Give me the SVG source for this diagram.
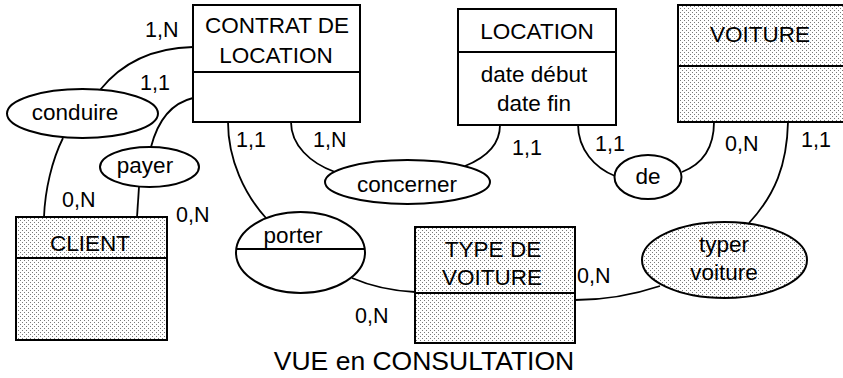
<svg xmlns="http://www.w3.org/2000/svg" width="843" height="378" viewBox="0 0 843 378">
<defs>
<pattern id="dots" x="0" y="0" width="4" height="4" patternUnits="userSpaceOnUse">
<rect width="4" height="4" fill="#ffffff"/>
<rect x="0" y="0" width="1" height="1" fill="#7a7a7a"/>
<rect x="2" y="2" width="1" height="1" fill="#7a7a7a"/>
</pattern>
<style>
.box{fill:#ffffff;stroke:#000;stroke-width:2}
.dot{fill:url(#dots);stroke:#000;stroke-width:2}
.div{stroke:#000;stroke-width:2;fill:none}
.ell{fill:#ffffff;stroke:#000;stroke-width:2}
.con{fill:none;stroke:#000;stroke-width:1.8}
text{font-family:"Liberation Sans",Arial,sans-serif;font-size:22.5px;fill:#000}
.c{text-anchor:middle}
.k{font-size:21.5px}
.t{font-size:26.5px}
</style>
</defs>
<rect width="843" height="378" fill="#ffffff"/>
<g id="connectors">
<path class="con" d="M100,90 C120,65 150,48 193,47"/>
<path class="con" d="M63,138 C52,160 45,190 44,217"/>
<path class="con" d="M151,147 C158,120 172,103 193,98"/>
<path class="con" d="M139,187 L137,217"/>
<path class="con" d="M228,122 C228,160 245,195 266,218"/>
<path class="con" d="M291,122 C291,145 310,163 335,172"/>
<path class="con" d="M500,125 C500,145 485,158 465,166"/>
<path class="con" d="M578,124 C578,150 595,168 615,176"/>
<path class="con" d="M682,172 C700,165 714,150 714,122"/>
<path class="con" d="M788,122 C787,165 775,195 749,223"/>
<path class="con" d="M660,286 C630,296 600,300 575,300"/>
<path class="con" d="M352,278 C375,288 395,291 415,292"/>
</g>
<g id="contrat">
<rect class="box" x="193" y="5" width="167" height="117"/>
<line class="div" x1="193" y1="72" x2="360" y2="72"/>
<text class="c" x="277" y="33">CONTRAT DE</text>
<text class="c" x="276" y="63">LOCATION</text>
</g>
<g id="location">
<rect class="box" x="458" y="9" width="158" height="116"/>
<line class="div" x1="458" y1="52" x2="616" y2="52"/>
<text class="c" x="537" y="39">LOCATION</text>
<text class="c" x="534" y="82">date début</text>
<text class="c" x="534" y="111">date fin</text>
</g>
<g id="voiture">
<rect class="dot" x="678" y="5" width="168" height="117"/>
<line class="div" x1="678" y1="66" x2="843" y2="66"/>
<text class="c" x="760" y="42">VOITURE</text>
</g>
<g id="client">
<rect class="dot" x="16" y="217" width="151" height="123"/>
<line class="div" x1="16" y1="258" x2="167" y2="258"/>
<text class="c" x="90" y="251">CLIENT</text>
</g>
<g id="typevoiture">
<rect class="dot" x="415" y="227" width="160" height="116"/>
<line class="div" x1="415" y1="293" x2="575" y2="293"/>
<text class="c" x="493" y="257">TYPE DE</text>
<text class="c" x="492" y="285">VOITURE</text>
</g>
<g id="conduire">
<ellipse class="ell" cx="82.5" cy="113.5" rx="75.5" ry="24.5"/>
<text class="c" x="75" y="120">conduire</text>
</g>
<g id="payer">
<ellipse class="ell" cx="149.5" cy="167" rx="49.5" ry="20"/>
<text class="c" x="145" y="173">payer</text>
</g>
<g id="concerner">
<ellipse class="ell" cx="407.5" cy="182" rx="82.5" ry="22"/>
<text class="c" x="407" y="192">concerner</text>
</g>
<g id="de">
<ellipse class="ell" cx="648" cy="177" rx="33.5" ry="22"/>
<text class="c" x="648" y="184">de</text>
</g>
<g id="porter">
<ellipse class="ell" cx="300.5" cy="252.5" rx="64.5" ry="40.5"/>
<line class="div" x1="236" y1="249" x2="365" y2="249"/>
<text class="c" x="293" y="243">porter</text>
</g>
<g id="typer">
<ellipse class="dot" cx="724.5" cy="260" rx="82.5" ry="38"/>
<text class="c" x="724" y="252">typer</text>
<text class="c" x="724" y="280">voiture</text>
</g>
<g id="labels">
<text class="k" x="145" y="37">1,N</text>
<text class="k" x="140" y="90">1,1</text>
<text class="k" x="236" y="147">1,1</text>
<text class="k" x="313" y="147">1,N</text>
<text class="k" x="512" y="155">1,1</text>
<text class="k" x="595" y="151">1,1</text>
<text class="k" x="725" y="151">0,N</text>
<text class="k" x="801" y="147">1,1</text>
<text class="k" x="62" y="207">0,N</text>
<text class="k" x="176" y="222">0,N</text>
<text class="k" x="577" y="283">0,N</text>
<text class="k" x="355" y="323">0,N</text>
<text class="c t" x="424" y="370">VUE en CONSULTATION</text>
</g>
</svg>
